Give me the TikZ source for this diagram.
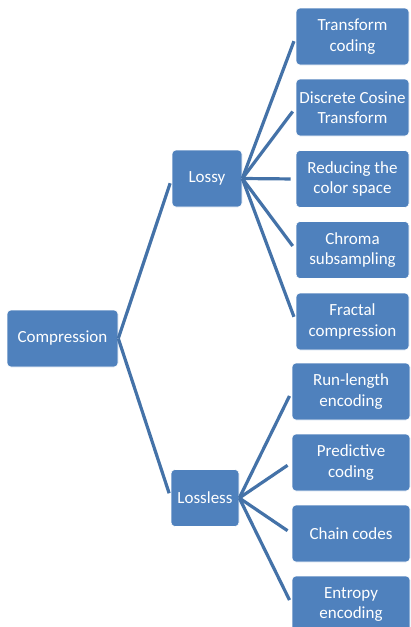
\documentclass[tikz,border=0pt]{standalone}
\usepackage{fontspec}
\setmainfont{Carlito}
\usepackage{tikz}
\usetikzlibrary{positioning,calc}
\definecolor{boxblue}{HTML}{4F81BD}
\definecolor{lineblue}{HTML}{4472A8}
\tikzstyle{block} = [rectangle, rounded corners=4pt, fill=boxblue, draw=white, line width=0.6pt,
text=white, align=center, minimum height=57pt, inner sep=1pt, font=\fontsize{17}{20.5}\selectfont]
\tikzstyle{link} = [draw=lineblue, line width=3.2pt, shorten >=5pt]

\begin{document}
\begin{tikzpicture}[x=1pt,y=-1pt]
						\useasboundingbox[fill=white] (0,0) rectangle (411,627);
						\node (comp) at (62.5,338.5) [block, minimum width=111pt] {Compression};
						\node (lossy) at (207,178.5) [block, minimum width=70pt] {Lossy};
						\node (lossless) at (205,498) [block, minimum width=68pt] {Lossless};
						\node (tc) at (352.5,36.5) [block, minimum width=113pt] {Transform\\coding};
						\node (dct) at (352.5,107.5) [block, minimum width=113pt] {Discrete Cosine\\Transform};
						\node (rcs) at (352.5,179) [block, minimum width=113pt] {Reducing the\\color space};
						\node (cs) at (352.5,250) [block, minimum width=113pt] {Chroma\\subsampling};
						\node (fc) at (352.5,321.5) [block, minimum width=113pt] {Fractal\\compression};
						\node (rle) at (351,391.5) [block, minimum width=118pt] {Run-length\\encoding};
						\node (pc) at (351,462.5) [block, minimum width=118pt] {Predictive\\coding};
						\node (cc) at (351,533.5) [block, minimum width=118pt] {Chain codes};
						\node (ee) at (351,604.5) [block, minimum width=118pt] {Entropy\\encoding};
						\draw[link] (comp.east) -- (lossy.west);
						\draw[link] (comp.east) -- (lossless.west);
						\foreach \c in {tc,dct,rcs,cs,fc}
							\draw[link] (lossy.east) -- (\c.west);
						\foreach \c in {rle,pc,cc,ee}
							\draw[link] (lossless.east) -- (\c.west);
					\end{tikzpicture}
\end{document}
